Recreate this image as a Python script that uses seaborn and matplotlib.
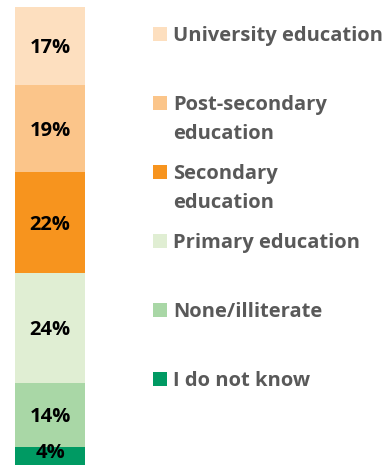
import matplotlib
matplotlib.use("Agg")
import matplotlib.pyplot as plt
import seaborn as sns
import pandas as pd
import numpy as np
from matplotlib.patches import Rectangle

# Education levels, from the bottom of the stack to the top
categories = ["I do not know", "None/illiterate", "Primary education",
              "Secondary education", "Post-secondary education", "University education"]
legend_labels = ["I do not know", "None/illiterate", "Primary education",
                 "Secondary\neducation", "Post-secondary\neducation", "University education"]
shares = [4, 14, 24, 22, 19, 17]
colors = ["#009A63", "#A9D7A6", "#E0EED3", "#F7941E", "#FBC58A", "#FDDFBF"]

sns.set_theme(style="white")
plt.rcParams["font.family"] = ["Open Sans", "DejaVu Sans"]

W, H = 392, 466
fig = plt.figure(figsize=(W / 100, H / 100), dpi=100)
ax = fig.add_axes([15 / W, 1 / H, 70 / W, 458 / H])

tops = np.cumsum(shares)
df = pd.DataFrame({"group": ["All"] * len(shares), "top": tops, "cat": categories})

# Stacked bar: draw cumulative totals from largest to smallest so each layer sits on the one below
for i in range(len(shares) - 1, -1, -1):
    sns.barplot(data=df.iloc[[i]], x="group", y="top", color=colors[i],
                width=1.0, saturation=1, ax=ax, linewidth=0)

# Value labels centred in each segment, kept inside the plot at the bottom edge
bottoms = tops - np.array(shares)
for b, s in zip(bottoms, shares):
    ax.text(0, max(b + s / 2, 3.1), f"{s}%", ha="center", va="center_baseline",
            fontsize=14.5, fontweight="bold", color="black")

ax.set_xlim(-0.5, 0.5)
ax.set_ylim(0, 100)
ax.set_axis_off()

# Legend, top entry first, evenly spaced; marker sits beside the first text line
y0, step, line_gap = 34, 69, 29
for k, idx in enumerate(range(len(shares) - 1, -1, -1)):
    yc = y0 + k * step
    fig.patches.append(Rectangle((153 / W, 1 - (yc + 7) / H), 14 / W, 14 / H,
                                 transform=fig.transFigure, facecolor=colors[idx],
                                 edgecolor="none"))
    for j, line in enumerate(legend_labels[idx].split("\n")):
        fig.text(173 / W, 1 - (yc + 7 + j * line_gap) / H, line, ha="left", va="baseline",
                 fontsize=14.5, fontweight="bold", color="#595959")

fig.savefig("out.png", dpi=100)
